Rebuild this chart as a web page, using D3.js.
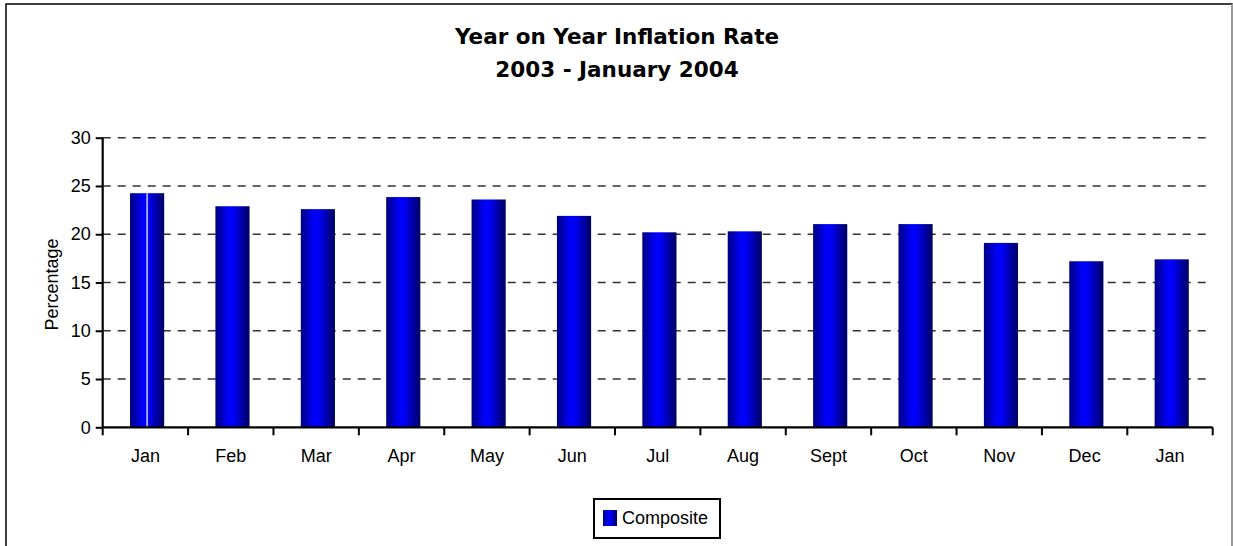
<!DOCTYPE html>
<html>
<head>
    <meta charset="utf-8">
    <script src="https://d3js.org/d3.v7.min.js"></script>
    <style>
        html, body { margin: 0; padding: 0; background: #fff; overflow: hidden; }
        #chart { width: 1233px; height: 546px; }
        text { font-family: "Liberation Sans", Arial, sans-serif; }
    </style>
</head>
<body>
<div id="chart"></div>
<script>
    var months = ["Jan", "Feb", "Mar", "Apr", "May", "Jun", "Jul", "Aug", "Sept", "Oct", "Nov", "Dec", "Jan"];
    var composite = [24.25, 22.9, 22.6, 23.85, 23.6, 21.9, 20.2, 20.3, 21.05, 21.05, 19.1, 17.2, 17.4];
    var yTicks = [0, 5, 10, 15, 20, 25, 30];
    var titleLines = ["Year on Year Inflation Rate", "2003 - January 2004"];
    var seriesName = "Composite";

    var width = 1233, height = 546;
    var margin = { left: 102.7, right: 20.3, top: 137.7, bottom: 118.7 };

    var svg = d3.select("#chart").append("svg")
        .attr("width", width)
        .attr("height", height);

    var defs = svg.append("defs");
    var grad = defs.append("linearGradient")
        .attr("id", "barGrad")
        .attr("x1", "0%").attr("x2", "100%").attr("y1", "0%").attr("y2", "0%");
    grad.append("stop").attr("offset", "0%").attr("stop-color", "#000080");
    grad.append("stop").attr("offset", "40%").attr("stop-color", "#0000ff");
    grad.append("stop").attr("offset", "55%").attr("stop-color", "#0000f0");
    grad.append("stop").attr("offset", "100%").attr("stop-color", "#000060");

    // chart area frame
    svg.append("path")
        .attr("d", "M6,546V4H1232V546")
        .attr("fill", "none")
        .attr("stroke", "#000")
        .attr("stroke-width", 1.5);
    svg.append("line")
        .attr("x1", 1232).attr("x2", 1232).attr("y1", 4).attr("y2", 546)
        .attr("stroke", "#bbb").attr("stroke-width", 1.5);

    // title
    svg.append("g")
        .selectAll("text")
        .data(titleLines)
        .enter().append("text")
        .attr("x", 617)
        .attr("y", function (d, i) { return 44 + i * 32.5; })
        .attr("text-anchor", "middle")
        .style("font-family", "Tahoma, 'DejaVu Sans', sans-serif")
        .style("font-weight", "bold")
        .style("font-size", "21.5px")
        .text(function (d) { return d; });

    var x = d3.scaleBand()
        .domain(d3.range(months.length))
        .range([margin.left, width - margin.right])
        .padding(0);

    var y = d3.scaleLinear()
        .domain([0, 30])
        .range([height - margin.bottom, margin.top]);

    var g = svg.append("g");

    // grid lines
    g.append("g")
        .selectAll("line")
        .data(yTicks.slice(1))
        .enter().append("line")
        .attr("x1", margin.left)
        .attr("x2", width - margin.right)
        .attr("y1", function (d) { return y(d); })
        .attr("y2", function (d) { return y(d); })
        .attr("stroke", "#333")
        .attr("stroke-width", 1.6)
        .attr("stroke-dasharray", "8,7");

    // bars
    var bw = x.bandwidth();
    g.append("g")
        .selectAll("rect")
        .data(composite)
        .enter().append("rect")
        .attr("x", function (d, i) { return x(i) + bw * 0.32; })
        .attr("y", function (d) { return y(d); })
        .attr("width", bw * 0.4)
        .attr("height", function (d) { return y(0) - y(d); })
        .attr("fill", "url(#barGrad)");

    // white seam on the first bar
    g.append("line")
        .attr("x1", x(0) + bw * 0.52).attr("x2", x(0) + bw * 0.52)
        .attr("y1", y(composite[0])).attr("y2", y(0))
        .attr("stroke", "#fff").attr("stroke-width", 1.2);

    // y axis
    var yAxis = g.append("g")
        .attr("transform", "translate(" + margin.left + ",0)")
        .call(d3.axisLeft(y).tickValues(yTicks).tickSize(7).tickPadding(5));
    yAxis.select(".domain").attr("stroke-width", 2.2).attr("d", "M0," + y(0) + "V" + y(30));
    yAxis.selectAll(".tick line").attr("stroke-width", 2);
    yAxis.selectAll(".tick text")
        .style("font-size", "18px")
        .attr("fill", "#000");

    // x axis
    var xAxis = g.append("g")
        .attr("transform", "translate(0," + y(0) + ")")
        .call(d3.axisBottom(x).tickSize(0).tickFormat(function (i) { return months[i]; }).tickPadding(22));
    xAxis.select(".domain").attr("stroke-width", 2.2).attr("d", "M" + margin.left + ",0H" + (width - margin.right));
    xAxis.selectAll(".tick text")
        .style("font-size", "18px")
        .attr("fill", "#000");
    xAxis.append("g")
        .selectAll("line")
        .data(d3.range(months.length + 1))
        .enter().append("line")
        .attr("x1", function (i) { return margin.left + i * bw; })
        .attr("x2", function (i) { return margin.left + i * bw; })
        .attr("y1", 0).attr("y2", 8)
        .attr("stroke", "#000").attr("stroke-width", 2);

    // y label
    svg.append("text")
        .attr("transform", "translate(58," + (y(15) + 2) + ")rotate(-90)")
        .attr("text-anchor", "middle")
        .style("font-size", "18px")
        .text("Percentage");

    // legend
    var legend = svg.append("g").attr("transform", "translate(594,499)");
    legend.append("rect")
        .attr("width", 126).attr("height", 39)
        .attr("fill", "#fff").attr("stroke", "#000").attr("stroke-width", 2);
    legend.append("rect")
        .attr("x", 9).attr("y", 11).attr("width", 14).attr("height", 16)
        .attr("fill", "url(#barGrad)");
    legend.append("text")
        .attr("x", 28).attr("y", 25)
        .style("font-size", "18px")
        .text(seriesName);
</script>
</body>
</html>
